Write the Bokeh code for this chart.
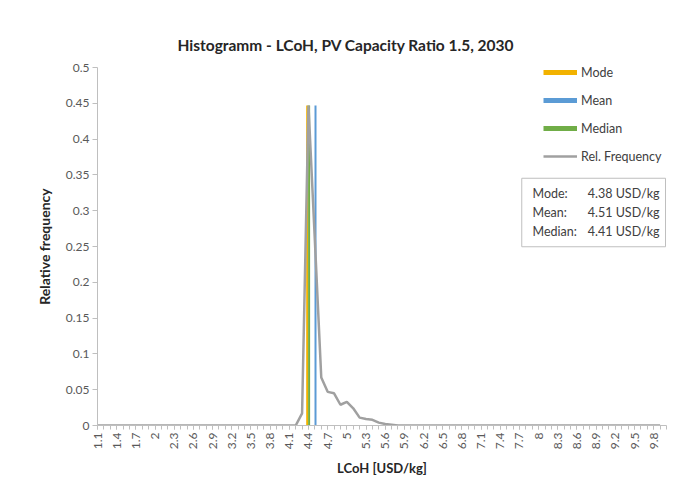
from bokeh.plotting import figure
from bokeh.models import Range1d, FixedTicker, Legend, LegendItem, Label, Title
from bokeh.embed import file_html
from bokeh.resources import INLINE
import numpy as np

# ---------------- data ----------------
categories = [1.1, 1.2, 1.3, 1.4, 1.5, 1.6, 1.7, 1.8, 1.9, 2.0,
              2.1, 2.2, 2.3, 2.4, 2.5, 2.6, 2.7, 2.8, 2.9, 3.0,
              3.1, 3.2, 3.3, 3.4, 3.5, 3.6, 3.7, 3.8, 3.9, 4.0,
              4.1, 4.2, 4.3, 4.4, 4.5, 4.6, 4.7, 4.8, 4.9, 5.0,
              5.1, 5.2, 5.3, 5.4, 5.5, 5.6, 5.7, 5.8, 5.9, 6.0,
              6.1, 6.2, 6.3, 6.4, 6.5, 6.6, 6.7, 6.8, 6.9, 7.0,
              7.1, 7.2, 7.3, 7.4, 7.5, 7.6, 7.7, 7.8, 7.9, 8.0,
              8.1, 8.2, 8.3, 8.4, 8.5, 8.6, 8.7, 8.8, 8.9, 9.0,
              9.1, 9.2, 9.3, 9.4, 9.5, 9.6, 9.7, 9.8, 9.9]

rel_frequency = [0, 0, 0, 0, 0, 0, 0, 0, 0, 0,
                 0, 0, 0, 0, 0, 0, 0, 0, 0, 0,
                 0, 0, 0, 0, 0, 0, 0, 0, 0, 0,
                 0, 0, 0.017, 0.447, 0.258, 0.067, 0.047, 0.045, 0.029, 0.033,
                 0.024, 0.011, 0.009, 0.008, 0.004, 0.002, 0.001, 0, 0, 0,
                 0, 0, 0, 0, 0, 0, 0, 0, 0, 0,
                 0, 0, 0, 0, 0, 0, 0, 0, 0, 0,
                 0, 0, 0, 0, 0, 0, 0, 0, 0, 0,
                 0, 0, 0, 0, 0, 0, 0, 0, 0]

x_tick_labels = ["1.1", "1.4", "1.7", "2", "2.3", "2.6", "2.9", "3.2", "3.5", "3.8",
                 "4.1", "4.4", "4.7", "5", "5.3", "5.6", "5.9", "6.2", "6.5", "6.8",
                 "7.1", "7.4", "7.7", "8", "8.3", "8.6", "8.9", "9.2", "9.5", "9.8"]
y_tick_labels = ["0", "0.05", "0.1", "0.15", "0.2", "0.25", "0.3", "0.35", "0.4", "0.45", "0.5"]

stat_names = ["Mode", "Mean", "Median"]
stat_values = [4.38, 4.51, 4.41]
stat_colors = ["#F2B200", "#5B9BD5", "#70AD47"]

chart_title = "Histogramm - LCoH, PV Capacity Ratio 1.5, 2030"

FONT = "Lato"
# ---------------- figure ----------------
p = figure(width=675, height=490,
           x_range=Range1d(1.1, 10.0), y_range=Range1d(0, 0.5),
           output_backend="svg", toolbar_location=None,
           min_border_left=97, min_border_right=9, min_border_top=67, min_border_bottom=65)
p.outline_line_color = None
p.grid.visible = False
p.background_fill_color = "white"
p.border_fill_color = "white"

# title: a blank second line lifts the text block a little higher above the frame
p.add_layout(Title(text=chart_title + "\n ", align="left", offset=80,
                   text_line_height=0.5,
                   text_font=FONT, text_font_size="15.5px", text_font_style="bold",
                   text_color="#262626"), "above")

# vertical stat lines
peak = max(rel_frequency)
p.segment(x0=stat_values, y0=[0] * 3, x1=stat_values, y1=[peak] * 3,
          line_color=stat_colors, line_width=2)

# relative frequency line
freq_r = p.line(categories, rel_frequency, line_color="#A0A0A0", line_width=2.5)

# legend swatches (single-point lines draw nothing in the plot area)
leg_items = []
for name, val, col in zip(stat_names, stat_values, stat_colors):
    r = p.line(x=[val], y=[peak], line_color=col, line_width=5)
    leg_items.append(LegendItem(label=name, renderers=[r]))
leg_items.append(LegendItem(label="Rel. Frequency", renderers=[freq_r]))

legend = Legend(items=leg_items, location=(446, 259),
                glyph_width=34, glyph_height=20, label_height=20, spacing=8,
                label_standoff=4, padding=0, margin=0,
                border_line_color=None, background_fill_alpha=0,
                label_text_font=FONT, label_text_font_size="12.5px",
                label_text_color="#404040")
p.add_layout(legend)

# axes
x_ticks = [float(s) for s in x_tick_labels]
p.xaxis.ticker = FixedTicker(ticks=x_ticks, minor_ticks=categories + [10.0])
p.xaxis.major_label_overrides = {t: s for t, s in zip(x_ticks, x_tick_labels)}
p.xaxis.major_label_orientation = np.pi / 2
p.xaxis.major_tick_out = 4
p.xaxis.major_tick_in = 0
p.xaxis.minor_tick_out = 4
p.xaxis.minor_tick_in = 0
p.xaxis.axis_label = "LCoH [USD/kg]"
p.xaxis.axis_label_standoff = 8
p.xaxis.axis_label_text_font_size = "13px"

y_ticks = [float(s) for s in y_tick_labels]
p.yaxis.ticker = FixedTicker(ticks=y_ticks, minor_ticks=[])
p.yaxis.major_label_overrides = {t: s for t, s in zip(y_ticks, y_tick_labels)}
p.yaxis.major_tick_out = 5
p.yaxis.major_tick_in = 0
p.yaxis.axis_label = "Relative frequency"
p.yaxis.axis_label_standoff = 10
p.yaxis.axis_label_text_font_size = "14px"

for ax in (p.xaxis[0], p.yaxis[0]):
    ax.axis_line_color = "#BFBFBF"
    ax.major_tick_line_color = "#BFBFBF"
    ax.minor_tick_line_color = "#BFBFBF"
    ax.major_label_text_font = FONT
    ax.major_label_text_font_size = "12px"
    ax.major_label_text_color = "#595959"
    ax.major_label_standoff = 3
    ax.axis_label_text_font = FONT
    ax.axis_label_text_font_style = "bold"
    ax.axis_label_text_color = "#262626"

# stats text box: the value column carries the framed box, names drawn on top
value_text = "\n".join(f"{v:.2f} USD/kg" for v in stat_values)
p.add_layout(Label(x=568, y=213, x_units="screen", y_units="screen",
                   text=value_text, text_font=FONT, text_font_size="12.5px",
                   text_color="#404040", text_baseline="middle", text_align="right",
                   text_line_height=1.25,
                   border_line_color="#BFBFBF", border_line_width=1,
                   background_fill_color="white",
                   padding=dict(left=66, right=6, top=8, bottom=8)))
name_text = "\n".join(n + ":" for n in stat_names)
p.add_layout(Label(x=435, y=213, x_units="screen", y_units="screen",
                   text=name_text, text_font=FONT, text_font_size="12.5px",
                   text_color="#404040", text_baseline="middle", text_align="left",
                   text_line_height=1.25))

open("out.html", "w").write(file_html(p, INLINE))
